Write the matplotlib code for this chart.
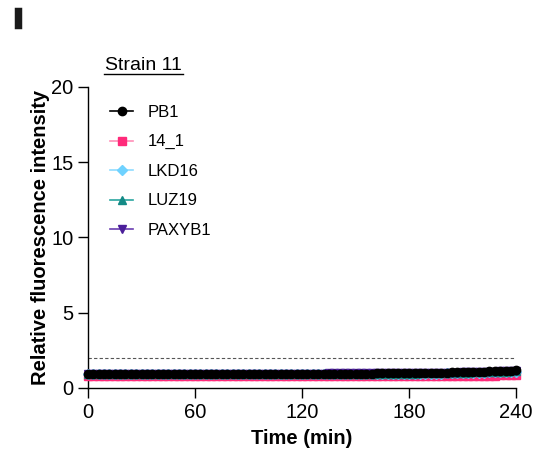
import numpy as np
import matplotlib
matplotlib.use('Agg')
import matplotlib.pyplot as plt
import matplotlib.patheffects as pe

plt.rcParams['font.family'] = ['Liberation Sans', 'DejaVu Sans']

# Time points (min), one reading every 3 min
time = np.arange(0, 243, 3)

# Relative fluorescence values
pb1 = [0.95, 0.94, 0.93, 0.93, 0.93, 0.93, 0.94, 0.93, 0.93, 0.93,
       0.93, 0.93, 0.93, 0.94, 0.93, 0.93, 0.93, 0.93, 0.93, 0.93,
       0.94, 0.93, 0.93, 0.93, 0.94, 0.94, 0.93, 0.94, 0.94, 0.94,
       0.95, 0.95, 0.94, 0.95, 0.95, 0.95, 0.95, 0.95, 0.95, 0.95,
       0.95, 0.96, 0.95, 0.95, 0.96, 0.96, 0.96, 0.95, 0.96, 0.96,
       0.96, 0.96, 0.96, 0.96, 0.97, 0.97, 0.97, 0.97, 0.97, 0.98,
       0.98, 0.98, 0.99, 0.99, 1.00, 1.00, 1.01, 1.02, 1.03, 1.04,
       1.05, 1.06, 1.07, 1.08, 1.09, 1.10, 1.11, 1.13, 1.14, 1.16,
       1.17]
strain14_1 = [0.80, 0.80, 0.79, 0.79, 0.79, 0.79, 0.79, 0.79, 0.79, 0.79,
              0.79, 0.79, 0.79, 0.79, 0.79, 0.79, 0.79, 0.79, 0.79, 0.79,
              0.79, 0.79, 0.79, 0.80, 0.80, 0.80, 0.80, 0.80, 0.80, 0.80,
              0.80, 0.80, 0.80, 0.80, 0.80, 0.80, 0.80, 0.80, 0.80, 0.80,
              0.80, 0.80, 0.80, 0.80, 0.80, 0.80, 0.80, 0.80, 0.80, 0.80,
              0.80, 0.80, 0.80, 0.80, 0.80, 0.80, 0.80, 0.80, 0.80, 0.80,
              0.80, 0.80, 0.80, 0.80, 0.81, 0.81, 0.81, 0.81, 0.81, 0.81,
              0.81, 0.81, 0.81, 0.82, 0.82, 0.82, 0.82, 0.83, 0.83, 0.84,
              0.84]
lkd16 = [0.93, 0.93, 0.92, 0.92, 0.92, 0.92, 0.92, 0.92, 0.92, 0.92,
         0.92, 0.92, 0.92, 0.92, 0.92, 0.92, 0.92, 0.92, 0.92, 0.92,
         0.92, 0.92, 0.93, 0.93, 0.93, 0.93, 0.93, 0.93, 0.93, 0.93,
         0.93, 0.93, 0.93, 0.93, 0.93, 0.93, 0.93, 0.93, 0.93, 0.93,
         0.93, 0.93, 0.93, 0.93, 0.93, 0.94, 0.94, 0.94, 0.94, 0.94,
         0.94, 0.94, 0.94, 0.94, 0.94, 0.94, 0.94, 0.94, 0.95, 0.95,
         0.95, 0.95, 0.95, 0.95, 0.96, 0.96, 0.96, 0.97, 0.97, 0.98,
         0.98, 0.99, 1.00, 1.01, 1.02, 1.03, 1.04, 1.05, 1.06, 1.07,
         1.08]
luz19 = [0.94, 0.94, 0.93, 0.93, 0.93, 0.93, 0.93, 0.93, 0.93, 0.93,
         0.93, 0.93, 0.93, 0.93, 0.93, 0.93, 0.93, 0.93, 0.93, 0.93,
         0.93, 0.93, 0.93, 0.94, 0.94, 0.94, 0.94, 0.94, 0.94, 0.94,
         0.94, 0.94, 0.94, 0.94, 0.94, 0.94, 0.94, 0.94, 0.94, 0.94,
         0.94, 0.94, 0.94, 0.94, 0.94, 0.94, 0.95, 0.95, 0.95, 0.95,
         0.95, 0.95, 0.95, 0.95, 0.95, 0.95, 0.95, 0.96, 0.96, 0.96,
         0.96, 0.96, 0.97, 0.97, 0.97, 0.98, 0.98, 0.99, 0.99, 1.00,
         1.01, 1.02, 1.03, 1.04, 1.05, 1.06, 1.07, 1.08, 1.09, 1.10,
         1.11]
paxyb1 = [0.96, 0.96, 0.95, 0.95, 0.95, 0.95, 0.95, 0.95, 0.95, 0.95,
          0.95, 0.95, 0.95, 0.95, 0.95, 0.95, 0.95, 0.95, 0.95, 0.95,
          0.95, 0.95, 0.95, 0.95, 0.96, 0.96, 0.96, 0.96, 0.96, 0.96,
          0.96, 0.96, 0.96, 0.96, 0.96, 0.96, 0.96, 0.96, 0.96, 0.96,
          0.96, 0.96, 0.96, 0.96, 0.96, 0.97, 0.97, 0.97, 0.97, 0.97,
          0.97, 0.97, 0.97, 0.97, 0.97, 0.97, 0.97, 0.98, 0.98, 0.98,
          0.98, 0.98, 0.99, 0.99, 0.99, 1.00, 1.00, 1.01, 1.01, 1.02,
          1.03, 1.04, 1.05, 1.06, 1.07, 1.08, 1.09, 1.10, 1.11, 1.12,
          1.13]

threshold = 2

names = ['PB1', '14_1', 'LKD16', 'LUZ19', 'PAXYB1']
series = [pb1, strain14_1, lkd16, luz19, paxyb1]
line_colors = ['black', '#ff8fb8', '#8fdcff', '#2aa6a0', '#6a3db0']
marker_colors = ['black', '#ff2a7a', '#6fd2ff', '#138a86', '#4b1f9a']
markers = ['o', 's', 'D', '^', 'v']
msizes = [6, 5.5, 5.5, 6, 6]

fig = plt.figure(figsize=(5.4, 4.57), dpi=100)
ax = fig.add_axes([0.163, 0.151, 0.793, 0.659])

# draw back to front so PB1 sits on top
order = [1, 2, 3, 4, 0]
for i in order:
    ax.plot(time, series[i], color=line_colors[i], lw=1.2,
            marker=markers[i], ms=msizes[i], mfc=marker_colors[i],
            mec=marker_colors[i], label=names[i], zorder=3 + (i == 0),
            clip_on=False)

ax.plot([0, 240], [threshold, threshold], ls=(0, (3, 2)), color='#555555',
        lw=0.8, zorder=2)

ax.set_xlim(0, 240)
ax.set_ylim(0, 20)
ax.set_xticks([0, 60, 120, 180, 240])
ax.set_yticks([0, 5, 10, 15, 20])
ax.spines['top'].set_visible(False)
ax.spines['right'].set_visible(False)
for s in ['left', 'bottom']:
    ax.spines[s].set_linewidth(1.0)
ax.tick_params(labelsize=14.5, length=7, width=1.0, pad=3.5)
ax.set_xlabel('Time (min)', fontsize=14.5, fontweight='bold', labelpad=5)
ax.set_ylabel('Relative fluorescence intensity', fontsize=14.5,
              fontweight='bold', labelpad=1)

# legend in original order
handles, labels = ax.get_legend_handles_labels()
hmap = dict(zip(labels, handles))
ax.legend([hmap[n] for n in names], names, loc='upper left',
          bbox_to_anchor=(0.016, 0.99), frameon=False, fontsize=12,
          handlelength=1.4, handletextpad=0.85, labelspacing=0.87)

fig.text(0.265, 0.847, 'Strain 11', fontsize=14, ha='center', va='baseline')
fig.add_artist(plt.Line2D([0.193, 0.339], [0.838, 0.838], color='black', lw=1.0))
# heavy panel letter
fig.text(0.026, 0.941, 'I', fontsize=19, fontweight='bold', ha='left',
         va='baseline', color='#1a1a1a',
         path_effects=[pe.withStroke(linewidth=2.5, foreground='#1a1a1a',
                                     joinstyle='miter')])

fig.savefig('out.png', dpi=100)
